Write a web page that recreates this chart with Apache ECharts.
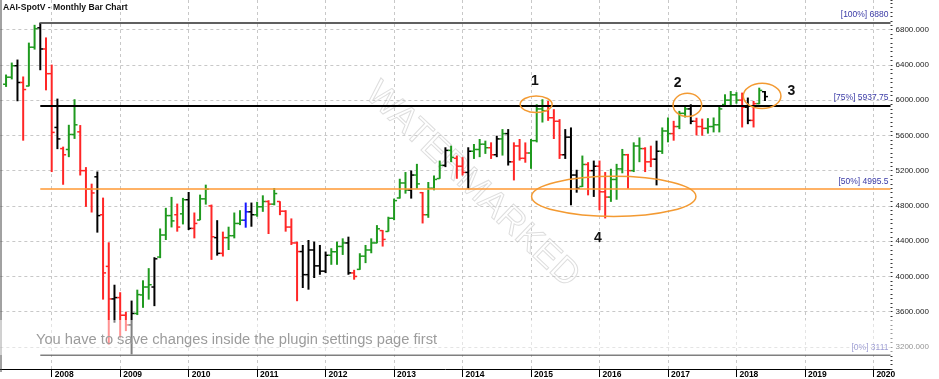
<!DOCTYPE html>
<html><head><meta charset="utf-8">
<script src="https://cdn.jsdelivr.net/npm/echarts/dist/echarts.min.js"></script>
<style>html,body{margin:0;padding:0;background:#fff}#c{width:939px;height:379px}</style>
</head><body><div id="c"></div>
<script>
// ---------------- DATA ----------------
const firstCategory = [2007, 4];   // first month on the axis
const lastCategory = [2020, 4];    // last month on the axis
const firstBar = '2007-05';        // month of first OHLC bar
// monthly OHLC, 2007-05 .. 2018-06
const opens = [
6180,6260,6390,6200,6160,6600,6820,6580,
6300,5690,5450,5440,5610,5640,5200,4990,5130,4700,4114,3745,
3760,3560,3450,3580,3790,3880,3880,4220,4470,4690,4700,4710,
4870,4545,4640,4880,4800,4440,4262,4440,4462,4601,4638,4733,
4700,4790,4850,4820,4850,4740,4560,4380,4282,4020,4300,4120,
4060,4240,4280,4340,4380,4040,4080,4230,4300,4380,4520,4510,
4660,4890,5060,4980,5150,4950,4700,5000,5110,5260,5430,5340,
5250,5180,5420,5440,5500,5460,5380,5560,5620,5300,5480,5340,
5400,5540,5900,5880,5800,5760,5380,5580,5150,5020,5270,5200,
5250,4960,4900,5100,5220,5380,5200,5480,5450,5300,5330,5420,
5650,5620,5700,5850,5900,5760,5700,5680,5700,5720,5950,6000,
6060,6000,5920,5770,5960,6095];
const highs = [
6290,6426,6460,6268,6652,6854,6880,6711,
6403,6017,5472,5720,6010,5717,5240,5052,5190,4894,4387,3906,
3821,3600,3726,3850,3956,4094,4218,4544,4778,4902,4826,4891,
4958,4725,4928,5041,4815,4638,4508,4564,4725,4751,4838,4838,
4846,4920,4864,5003,4853,4751,4658,4395,4357,4413,4395,4357,
4282,4320,4395,4432,4451,4075,4263,4357,4432,4582,4526,4677,
4883,5108,5184,5202,5277,4958,5071,5145,5314,5465,5483,5371,
5353,5465,5502,5559,5540,5521,5596,5671,5671,5521,5559,5520,
5559,5953,6010,5990,5897,5784,5671,5690,5210,5371,5296,5314,
5314,5184,5221,5277,5446,5390,5521,5577,5465,5483,5540,5690,
5803,5765,5878,5934,5953,5800,5790,5795,5803,5934,6066,6103,
6090,6085,6029,5990,6141,6103];
const lows = [
6150,6235,5987,5540,6156,6573,6339,6111,
5184,5444,5040,5353,5560,5145,4789,4725,4497,3737,3227,3475,
3306,3380,3111,3562,3644,3737,3663,4207,4413,4556,4508,4590,
4526,4432,4638,4815,4188,4236,4226,4300,4432,4582,4553,4564,
4677,4733,4481,4807,4695,4508,4357,3719,3869,3850,3982,4019,
4038,4132,4132,4244,4019,3963,4075,4151,4263,4376,4339,4508,
4638,4883,4939,4883,4996,4601,4665,4977,5108,5240,5296,5108,
5145,4996,5333,5353,5390,5333,5353,5371,5258,5089,5314,5290,
5221,5521,5746,5765,5559,5333,5333,4807,4950,5014,4920,4902,
4751,4658,4846,4870,5170,4996,5184,5296,5184,5240,5033,5390,
5521,5540,5671,5803,5727,5600,5596,5620,5634,5634,5934,5934,
5960,5690,5727,5690,5953,5990];
const closes = [
6260,6390,6200,6120,6600,6810,6580,6300,
5634,5560,5380,5610,5720,5200,4990,4947,4690,4040,3745,3760,
3560,3450,3580,3794,3880,3906,4200,4470,4690,4630,4560,4870,
4545,4601,4880,4990,4450,4262,4440,4462,4601,4638,4733,4700,
4790,4850,4820,4940,4740,4560,4380,4282,4020,4300,4120,4060,
4240,4280,4340,4380,4040,4000,4230,4300,4380,4540,4420,4660,
4860,5060,4980,5150,5050,4700,5000,5100,5260,5430,5350,5250,
5180,5420,5440,5500,5460,5380,5560,5620,5300,5480,5340,5400,
5540,5900,5880,5800,5760,5380,5580,5150,5000,5270,5200,5250,
4960,4900,5100,5220,5380,5200,5480,5450,5300,5330,5420,5650,
5620,5700,5850,5900,5760,5700,5680,5700,5720,5900,6000,6060,
6000,5920,5770,5960,6110,6040];
// bar class: U = up, D = down, K = neutral/outside, B = special
const barKinds = (
'UUKDUUKD' +
'DKDUUDDDKDDK' +
'DDKUUUKUUUDU' +
'KDUUDKDUUUBK' +
'UUDUDDDDKKKK' +
'KUUUKDUUUUDU' +
'UUUKUDUUUKUD' +
'DKUUUDKUKDDD' +
'UUUDDDKKKUDK' +
'DDUUUDUUDDKU' +
'UDUUKDDUUUUU' +
'UDKDUK').split('');
const yLabelTicks = [3200,3600,4000,4400,4800,5200,5600,6000,6400,6800];
const fibPct = ['100%','75%','50%','0%'];
const fibValues = [6880, 5937.75, 4995.5, 3111];
const fibStart = '2007-11';
// annotations in data space: [catIndexFrom, catIndexTo, valueLow, valueHigh]
const ellipses = [[91.1,96.7,5859,6046],[117.9,122.9,5814,6077],[130.2,136.8,5905,6190],[93.1,121.9,4680,5136]];
const markerTexts = ['1','2','3','4'];
const markerPos = [[93.7,6212],[118.7,6190],[138.65,6099],[104.7,4432]];

// ---------------- BUILD ----------------
function mk(y,m){return y+'-'+(m<10?'0':'')+m;}
const categories = [];
for (let y=firstCategory[0], m=firstCategory[1]; y<lastCategory[0] || (y===lastCategory[0] && m<=lastCategory[1]); ) {
  categories.push(mk(y,m)); m++; if (m>12){m=1;y++;}
}
const startIdx = categories.indexOf(firstBar);
const ohlc = opens.map((o,i)=>[startIdx+i, o, highs[i], lows[i], closes[i]]);

const FONT = 'Liberation Sans, Arial, sans-serif';
const kindColor = {U:'#1f9a1f', D:'#ff2626', K:'#000000', B:'#1515ff'};
const fibColor = ['#606060','#000000','#ff9933','#555555'];
const fibWidth = [2,2,1.5,1.5];
const isJan = (i,v)=> /-01$/.test(v);

const chart = echarts.init(document.getElementById('c'));
chart.setOption({
  animation:false,
  backgroundColor:'#fff',
  title:{text:'AAI-SpotV - Monthly Bar Chart', left:3, top:3, padding:0,
    textStyle:{fontSize:8.6, fontWeight:'bold', color:'#111', fontFamily:FONT}},
  grid:{left:0.35, right:48.5, top:0, bottom:7.4, containLabel:false},
  xAxis:{type:'category', data:categories, boundaryGap:false,
    axisLine:{lineStyle:{color:'#000', width:1}},
    axisTick:{interval:isJan, length:8, lineStyle:{color:'#000'}},
    axisLabel:{interval:isJan, formatter:v=>v.slice(0,4), align:'left', padding:[0,0,0,3], margin:1,
      fontSize:8.5, fontWeight:'bold', color:'#000', fontFamily:FONT},
    splitLine:{show:true, interval:isJan, lineStyle:{color:'#c8c8c8', type:[3,3], width:1}}},
  yAxis:{type:'value', position:'right', min:2950, max:7135.6, interval:50, scale:true,
    axisLine:{show:false},
    axisTick:{show:true, length:2, lineStyle:{color:'#333'}},
    axisLabel:{formatter:v=> (v%400===0 ? v.toFixed(3) : ''), fontSize:8, color:'#222', margin:5, fontFamily:FONT},
    splitLine:{show:false}},
  series:[
    {type:'line', data:[], z:1, silent:true,
      markLine:{silent:true, symbol:['none','none'], z:1, label:{show:false},
        lineStyle:{color:'#c8c8c8', type:[3,3], width:1},
        data: yLabelTicks.map(v=>({yAxis:v}))}},
    {type:'custom', z:3, data:ohlc, encode:{x:0, y:[2,3]},
      renderItem:function(params, api){
        const x = api.value(0);
        const o = api.coord([x, api.value(1)]);
        const h = api.coord([x, api.value(2)]);
        const l = api.coord([x, api.value(3)]);
        const c = api.coord([x, api.value(4)]);
        const col = kindColor[barKinds[params.dataIndex]];
        return {type:'group', children:[
          {type:'line', shape:{x1:h[0], y1:h[1], x2:l[0], y2:l[1]}, style:{stroke:col, lineWidth:2}},
          {type:'line', shape:{x1:o[0]-3, y1:o[1], x2:o[0], y2:o[1]}, style:{stroke:col, lineWidth:1.5}},
          {type:'line', shape:{x1:c[0], y1:c[1], x2:c[0]+3, y2:c[1]}, style:{stroke:col, lineWidth:1.5}}
        ]};
      }},
    {type:'line', data:[], z:5, silent:true,
      markLine:{silent:true, symbol:['none','none'], z:5,
        data: fibValues.map((v,i)=>[
          {coord:[fibStart, v], lineStyle:{color:fibColor[i], width:fibWidth[i], type:'solid'},
            label:{show:true, position:'insideEndTop', formatter:'['+fibPct[i]+'] '+v, color:'#3a3aa6',
              fontSize:8.5, fontFamily:FONT, distance:[2,3]}},
          {coord:[categories[categories.length-1], v]}])}}
  ]
});

function px(ci, v){
  const a = chart.convertToPixel({gridIndex:0}, [0, v]);
  const b = chart.convertToPixel({gridIndex:0}, [categories.length-1, v]);
  return [a[0] + (b[0]-a[0]) * ci/(categories.length-1), a[1]];
}
const graphics = [];
graphics.push({type:'text', x:472, y:185, rotation:-0.76, z:0, silent:true,
  style:{text:'WATERMARKED', fontSize:36, fontFamily:FONT, fill:'rgba(0,0,0,0)', stroke:'#dedede', lineWidth:1,
    align:'center', verticalAlign:'middle'}});
ellipses.forEach(e=>{
  const p1 = px(e[0], e[3]), p2 = px(e[1], e[2]);
  graphics.push({type:'ellipse', z:10, silent:true,
    shape:{cx:(p1[0]+p2[0])/2, cy:(p1[1]+p2[1])/2, rx:Math.abs(p2[0]-p1[0])/2, ry:Math.abs(p2[1]-p1[1])/2},
    style:{fill:'none', stroke:'#f39a32', lineWidth:1.5}});
});
markerTexts.forEach((t,i)=>{
  const p = px(markerPos[i][0], markerPos[i][1]);
  graphics.push({type:'text', x:p[0], y:p[1], z:10, silent:true,
    style:{text:t, fontSize:14, fontWeight:'bold', fontFamily:FONT, fill:'#111', align:'center', verticalAlign:'middle'}});
});
graphics.push({type:'line', z:10, silent:true, shape:{x1:1, y1:0, x2:1, y2:372}, style:{stroke:'#444', lineWidth:1}});
graphics.push({type:'rect', z:20, silent:true, shape:{x:0, y:320, width:939, height:35}, style:{fill:'rgba(255,255,255,0.5)'}});
graphics.push({type:'text', x:36, y:340, z:21, silent:true,
  style:{text:'You have to save changes inside the plugin settings page first', fontSize:14.7, fontFamily:FONT,
    fill:'#9c9c9c', verticalAlign:'middle'}});
chart.setOption({graphic:graphics});
</script></body></html>
